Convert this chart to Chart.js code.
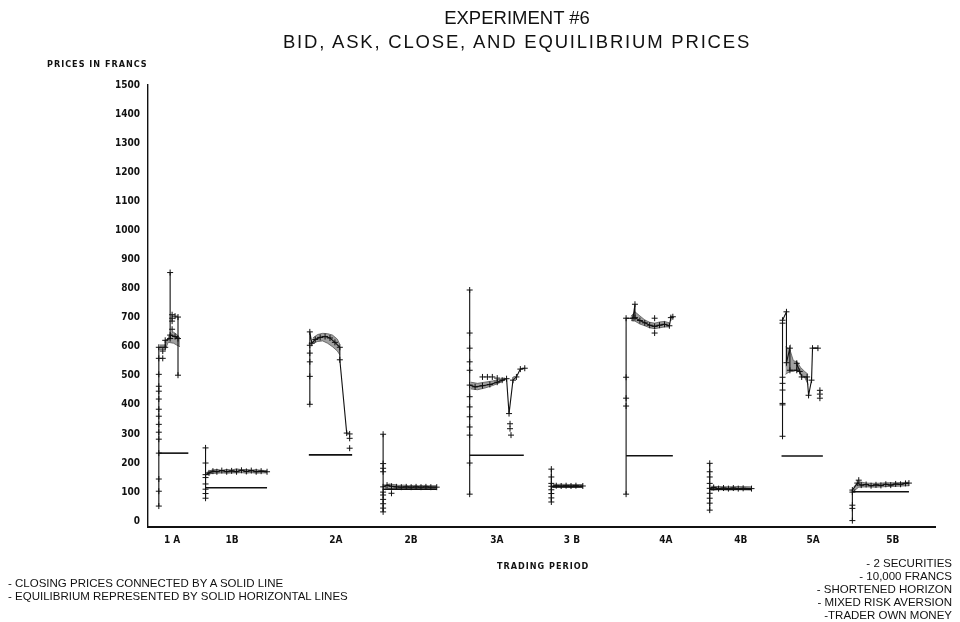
<!DOCTYPE html>
<html>
<head>
<meta charset="utf-8">
<script src="https://cdn.jsdelivr.net/npm/chart.js@4.4.1/dist/chart.umd.min.js"></script>
<style>
  html, body { margin: 0; padding: 0; background: #fff; }
  #wrap { position: relative; width: 960px; height: 622px; overflow: hidden; }
  #chart { position: absolute; left: 0; top: 0; }
  .txt { position: absolute; color: #111; white-space: nowrap; }
  .title { font-family: "Liberation Sans", Arial, sans-serif; font-size: 18.5px; left: 0; width: 1034px; text-align: center; }
  .wide { letter-spacing: 1.8px; }
  .plot { font-family: "DejaVu Sans Condensed", "DejaVu Sans", sans-serif; font-weight: bold; font-size: 9px; letter-spacing: 1px; }
  .note { font-family: "Liberation Sans Narrow", "Arial Narrow", "Liberation Sans", sans-serif; font-size: 11.5px; line-height: 13px; }
</style>
</head>
<body>
<div id="wrap">
  <canvas id="chart" width="960" height="622"></canvas>
  <div class="txt title" style="top:7px;">EXPERIMENT #6</div>
  <div class="txt title wide" style="top:31px;">BID, ASK, CLOSE, AND EQUILIBRIUM PRICES</div>
  <div class="txt plot" style="left:47px; top:59px;">PRICES IN FRANCS</div>
  <div class="txt plot" style="left:497px; top:561px;">TRADING PERIOD</div>
  <div class="txt note" style="left:8px; top:577px;">- CLOSING PRICES CONNECTED BY A SOLID LINE<br>- EQUILIBRIUM REPRESENTED BY SOLID HORIZONTAL LINES</div>
  <div class="txt note" style="right:8px; top:557px; text-align:right;">- 2 SECURITIES<br>- 10,000 FRANCS<br>- SHORTENED HORIZON<br>- MIXED RISK AVERSION<br>-TRADER OWN MONEY</div>
</div>
<script>
// Trading periods and where their names sit on the time axis
const periodNames = ['1 A', '1B', '2A', '2B', '3A', '3 B', '4A', '4B', '5A', '5B'];
const periodLabelAt = [4.9, 17.1, 38.2, 53.5, 70.9, 86.2, 105.3, 120.5, 135.2, 151.4];
const priceTicks = [0, 100, 200, 300, 400, 500, 600, 700, 800, 900, 1000, 1100, 1200, 1300, 1400, 1500];

// Equilibrium price of each period and the time span it covers
const eqPrice = [234, 115, 228, 110, 227, 118, 225, 110, 224, 101];
const eqStart = [2.1, 11.7, 32.7, 47.8, 65.4, 82.0, 97.2, 114.2, 128.8, 143.2];
const eqEnd   = [8.2, 24.2, 41.5, 58.7, 76.4, 88.4, 106.7, 122.7, 137.2, 154.7];

// Closing prices [time, francs] per period
const close1A = [[2.2,52],[2.2,103],[2.2,145],[2.2,234],[2.2,282],[2.2,306],[2.2,333],[2.2,361],[2.2,385],[2.2,420],[2.2,447],[2.2,464],[2.2,505],[2.2,560],[2.2,598],[3.5,598],[3.5,622],[4.5,628],[4.5,855],[4.5,640],[5.5,635],[6.1,628],[6.1,702],[6.1,502]];
const close1B = [[11.7,79],[11.7,95],[11.7,110],[11.7,128],[11.7,150],[11.7,200],[11.7,252],[11.7,160],[12.4,166],[13.2,172],[14,170],[15,174],[16,170],[17,173],[18,170],[19,175],[20,171],[21,174],[22,170],[23,172],[24.2,170]];
const close2A = [[32.9,402],[32.9,498],[32.9,548],[32.9,578],[32.9,605],[32.9,651],[33.3,612],[34,625],[35,632],[36,635],[37,630],[38,615],[39,598],[39,555],[40.4,303]];
const close2B = [[47.8,32],[47.8,45],[47.8,60],[47.8,75],[47.8,90],[47.8,100],[47.8,170],[47.8,182],[47.8,198],[47.8,299],[47.8,118],[48.6,124],[49.5,120],[50.5,118],[51.5,117],[52.5,118],[53.5,117],[54.5,118],[55.5,117],[56.5,118],[57.5,117],[58.7,117]];
const close3A = [[65.4,93],[65.4,200],[65.4,296],[65.4,324],[65.4,359],[65.4,393],[65.4,428],[65.4,519],[65.4,548],[65.4,595],[65.4,647],[65.4,795],[65.4,468],[66.5,462],[68,466],[69.5,470],[71,478],[72,485],[72.9,490],[73.4,370],[74.2,485],[74.9,496],[75.7,523],[76.6,526]];
const close3B = [[82,66],[82,80],[82,95],[82,108],[82,130],[82,152],[82,179],[82,120],[83,122],[84,121],[85,122],[86,121],[87,122],[88.4,121]];
const close4A = [[97.2,93],[97.2,396],[97.2,423],[97.2,495],[97.2,698],[98.6,698],[99,746],[99,700],[100,690],[101,682],[102,674],[103,670],[104,674],[105,677],[106,672],[106.3,700],[106.7,703]];
const close4B = [[114.2,38],[114.2,62],[114.2,79],[114.2,96],[114.2,130],[114.2,152],[114.2,170],[114.2,199],[114.2,113],[115,116],[116,112],[117,114],[118,112],[119,114],[120,112],[121,113],[122.7,112]];
const close5A = [[129,292],[129,400],[129,405],[129,451],[129,474],[129,495],[129,681],[129,691],[129.8,720],[129.8,545],[130.5,595],[130.5,519],[131.9,519],[131.9,543],[132.5,515],[132.9,496],[134,496],[134.3,433],[134.9,485],[135.1,595],[136.2,595]];
const close5B = [[143.2,2],[143.2,44],[143.2,55],[143.2,100],[143.2,107],[144.2,131],[145,124],[146,126],[147,122],[148,125],[149,123],[150,127],[151,124],[152,128],[153,127],[154,130],[154.7,131]];

// Best ask / best bid outlines, shaded between
const ask1A = [[2.4,606],[3.5,606],[4.1,630],[4.5,645],[5.2,650],[5.8,643],[6.5,630]];
const bid1A = [[2.4,590],[3.5,590],[4.1,615],[4.5,614],[5.2,612],[5.8,606],[6.5,600]];
const ask1B = [[12,168],[13,176],[14,178],[15,175],[16,178],[17,176],[18,180],[19,177],[20,178],[21,176],[22,177],[23,175],[24.2,174]];
const bid1B = [[12,160],[13,164],[14,165],[15,166],[16,165],[17,166],[18,166],[19,167],[20,165],[21,167],[22,165],[23,166],[24.2,166]];
const ask2A = [[33.5,630],[34.5,642],[35.5,646],[36.5,645],[37.5,640],[38.5,626],[39,608]];
const bid2A = [[33.5,612],[34.5,618],[35.5,620],[36.5,612],[37.5,600],[38.5,585],[39,572]];
const ask2B = [[48.2,120],[49,128],[50,126],[51,123],[52,124],[53,122],[54,123],[55,122],[56,123],[57,122],[58.7,122]];
const bid2B = [[48.2,108],[49,112],[50,113],[51,112],[52,113],[53,112],[54,113],[55,112],[56,113],[57,112],[58.7,112]];
const ask3A = [[65.6,478],[67,474],[68.5,478],[70,482],[71.5,488],[72.5,493]];
const bid3A = [[65.6,455],[67,452],[68.5,458],[70,466],[71.5,476],[72.5,485]];
const ask3B = [[82.3,126],[84,127],[86,126],[88.4,126]];
const bid3B = [[82.3,116],[84,117],[86,116],[88.4,117]];
const ask4A = [[98.2,705],[99,720],[100,706],[101,692],[102,684],[103,681],[104,685],[105,687],[106,682]];
const bid4A = [[98.2,690],[99,688],[100,678],[101,672],[102,665],[103,662],[104,665],[105,668],[106,668]];
const ask4B = [[114.5,120],[116,119],[118,118],[120,119],[122.7,118]];
const bid4B = [[114.5,106],[116,108],[118,107],[120,108],[122.7,107]];
const ask5A = [[129.6,600],[130.5,590],[131.2,552],[132,548],[132.6,530],[133.5,515],[134.2,505]];
const bid5A = [[129.6,505],[130.5,515],[131.2,515],[132,520],[132.6,508],[133.5,495],[134.2,470]];
const ask5B = [[143.5,118],[144.5,136],[146,131],[148,130],[150,132],[152,132],[154.7,134]];
const bid5B = [[143.5,104],[144.5,117],[146,118],[148,117],[150,119],[152,120],[154.7,122]];

// Single bids and asks that stand apart from the closing line
const offers = [[4.9,710],[4.9,698],[4.9,688],[4.9,660],[5.5,705],[3.0,585],[3.0,560],[41,300],[41,285],[41,251],[49.5,96],[68,496],[69,496],[70,496],[71,492],[73.6,335],[73.6,318],[73.8,296],[103,698],[103,647],[136.6,450],[136.6,437],[136.6,423],[144.5,141]];

const closes = [close1A, close1B, close2A, close2B, close3A, close3B, close4A, close4B, close5A, close5B];
const bands = [[ask1A, bid1A], [ask1B, bid1B], [ask2A, bid2A], [ask2B, bid2B], [ask3A, bid3A], [ask3B, bid3B], [ask4A, bid4A], [ask4B, bid4B], [ask5A, bid5A], [ask5B, bid5B]];

const pts = arr => arr.map(([x, y]) => ({ x, y }));
const datasets = [];

closes.forEach(c => datasets.push({
  data: pts(c), order: 0, borderColor: '#111', borderWidth: 1.1,
  pointStyle: 'cross', pointRadius: 3, pointBorderColor: '#111', pointBorderWidth: 1,
  tension: 0, fill: false
}));

eqPrice.forEach((p, i) => datasets.push({
  data: [{ x: eqStart[i], y: p }, { x: eqEnd[i], y: p }], order: 1,
  borderColor: '#111', borderWidth: 1.6, pointRadius: 0, fill: false
}));

datasets.push({
  data: pts(offers), order: 2, showLine: false,
  pointStyle: 'cross', pointRadius: 3, pointBorderColor: '#111', pointBorderWidth: 1
});

bands.forEach(([ask, bid]) => {
  datasets.push({ data: pts(ask), order: 5, borderColor: '#555', borderWidth: 0.8, pointRadius: 0, fill: false });
  datasets.push({ data: pts(bid), order: 5, borderColor: '#555', borderWidth: 0.8, pointRadius: 0,
    fill: '-1', backgroundColor: 'rgba(120,120,120,0.7)' });
});

new Chart(document.getElementById('chart'), {
  type: 'line',
  data: { datasets },
  options: {
    responsive: false,
    animation: false,
    events: [],
    layout: { padding: { top: 85, right: 25, bottom: 0, left: 0 } },
    plugins: { legend: { display: false }, tooltip: { enabled: false }, title: { display: false } },
    scales: {
      x: {
        type: 'linear', min: 0, max: 160,
        grid: { display: false, drawTicks: false },
        border: { display: true, color: '#111', width: 2 },
        afterBuildTicks: s => { s.ticks = periodLabelAt.map(v => ({ value: v })); },
        afterFit: s => { s.height = 95; },
        ticks: {
          autoSkip: false, maxRotation: 0, padding: 7, color: '#111',
          font: { family: 'DejaVu Sans Condensed', weight: 'bold', size: 10 },
          callback: (v, i) => periodNames[i]
        }
      },
      y: {
        type: 'linear', min: -20, max: 1500,
        grid: { display: false, drawTicks: false },
        border: { display: true, color: '#111', width: 1.4 },
        afterBuildTicks: s => { s.ticks = priceTicks.map(v => ({ value: v })); },
        afterFit: s => { s.width = 148; },
        ticks: {
          padding: 8, color: '#111',
          font: { family: 'DejaVu Sans Condensed', weight: 'bold', size: 10 },
          callback: v => String(v)
        }
      }
    }
  }
});
</script>
</body>
</html>
